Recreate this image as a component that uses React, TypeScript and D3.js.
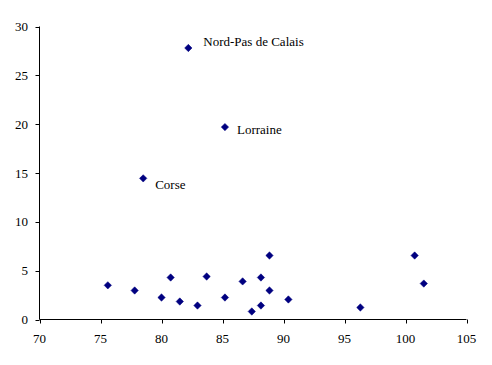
import React from "react";
import * as d3 from "d3";

const xValues = [82.2, 85.2, 78.5, 75.6, 77.8, 80.0, 80.75, 81.5, 82.95, 83.7, 85.2, 86.65, 87.4, 88.15, 88.15, 88.85, 88.85, 90.4, 96.3, 100.75, 101.5];
const yValues = [27.8, 19.7, 14.45, 3.5, 2.97, 2.25, 4.3, 1.84, 1.43, 4.4, 2.25, 3.9, 0.82, 4.3, 1.43, 6.55, 2.97, 2.05, 1.23, 6.55, 3.68];
const pointLabels = ["Nord-Pas de Calais", "Lorraine", "Corse"];
const labelOffsets = [[15, -2], [12, 7], [12, 11]];
const xTicks = [70, 75, 80, 85, 90, 95, 100, 105];
const yTicks = [0, 5, 10, 15, 20, 25, 30];

const W = 492;
const H = 365;
const FONT = "Liberation Serif, Times New Roman, serif";

export default function App() {
  const x = d3.scaleLinear().domain([70, 105]).range([39.5, 466.5]);
  const y = d3.scaleLinear().domain([0, 30]).range([319.5, 26.5]);
  const sym = d3.symbol().type(d3.symbolSquare).size(27)();
  const x0 = x(70);
  const y0 = y(0);
  return (
    <svg width={W} height={H} style={{ position: "absolute", left: 0, top: 0, background: "#fff", fontFamily: FONT, fontSize: "13px" }}>
      <rect width={W} height={H} fill="#fff" />
      <line x1={x0} x2={x0} y1={y(30)} y2={y0} stroke="#000" />
      {yTicks.map((t) => (
        <g key={"y" + t}>
          <line x1={x0 - 4} x2={x0} y1={Math.round(y(t)) + 0.5} y2={Math.round(y(t)) + 0.5} stroke="#000" />
          <text x={28} y={y(t) + 4.5} textAnchor="end" fill="#000" style={{ fontFamily: FONT }}>{t}</text>
        </g>
      ))}
      <line x1={x0} x2={x(105)} y1={y0} y2={y0} stroke="#000" />
      {xTicks.map((t) => (
        <g key={"x" + t}>
          <line x1={Math.round(x(t)) + 0.5} x2={Math.round(x(t)) + 0.5} y1={y0} y2={y0 + 4} stroke="#000" />
          <text x={x(t)} y={343} textAnchor="middle" fill="#000" style={{ fontFamily: FONT }}>{t}</text>
        </g>
      ))}
      {xValues.map((v, i) => (
        <path key={"p" + i} d={sym} transform={`translate(${x(v)},${y(yValues[i])}) rotate(45)`} fill="#000080" stroke="#000080" strokeWidth={0.5} />
      ))}
      {pointLabels.map((l, i) => (
        <text key={"l" + i} x={x(xValues[i]) + labelOffsets[i][0]} y={y(yValues[i]) + labelOffsets[i][1]} fill="#000" style={{ fontFamily: FONT }}>{l}</text>
      ))}
    </svg>
  );
}
